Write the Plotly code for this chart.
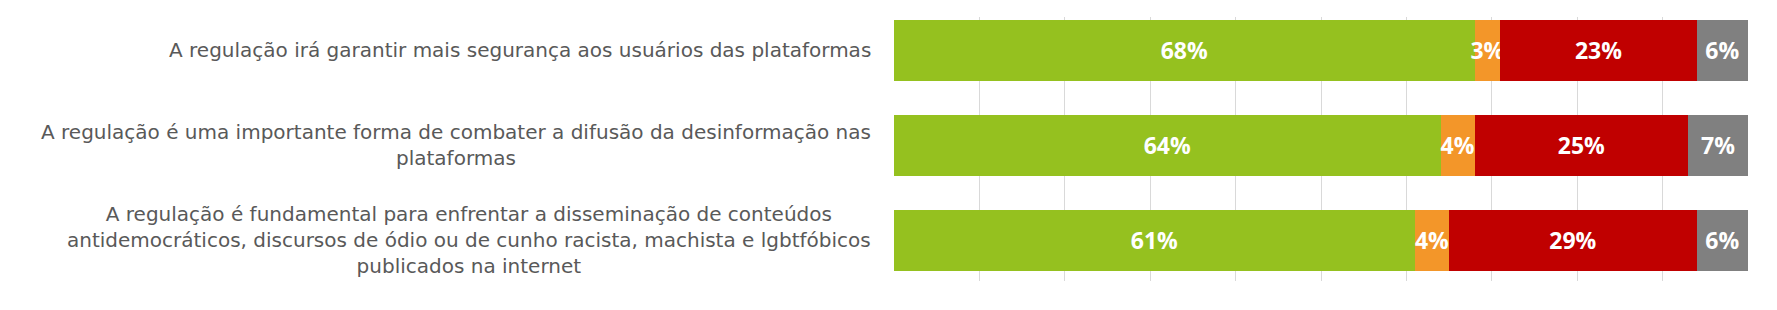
import plotly.graph_objects as go

categories = [
    "A regulação irá garantir mais segurança aos usuários das plataformas",
    "A regulação é uma importante forma de combater a difusão da desinformação nas<br>plataformas",
    "A regulação é fundamental para enfrentar a disseminação de conteúdos<br>antidemocráticos, discursos de ódio ou de cunho racista, machista e lgbtfóbicos<br>publicados na internet",
]
series_names = ["Concorda", "Nem concorda nem discorda", "Discorda", "Não sabe"]
concorda = [68, 64, 61]
neutro = [3, 4, 4]
discorda = [23, 25, 29]
nao_sabe = [6, 7, 6]
colors = ["#95C11F", "#F39629", "#C00000", "#808080"]

ypos = list(range(len(categories)))
fig = go.Figure()
for name, vals, col in zip(series_names, [concorda, neutro, discorda, nao_sabe], colors):
    fig.add_trace(go.Bar(
        y=ypos, x=vals, orientation="h", name=name,
        marker=dict(color=col, line=dict(width=0)),
        width=0.64,
        text=[f"{v}%" for v in vals],
        textposition="inside", insidetextanchor="middle", textangle=0,
        textfont=dict(color="white", size=23, family="Open Sans", weight="bold"),
        constraintext="none",
        hoverinfo="skip",
    ))

for i, cat in enumerate(categories):
    fig.add_annotation(
        x=0, xref="paper", y=i, yref="y", xanchor="right", yanchor="middle",
        xshift=-21, text=cat, showarrow=False, align="center",
        font=dict(family="DejaVu Sans", size=20, color="#595959"),
    )

fig.update_layout(
    width=1777, height=310,
    margin=dict(l=894, r=29, t=17, b=29),
    barmode="stack", showlegend=False,
    plot_bgcolor="white", paper_bgcolor="white",
    uniformtext=dict(minsize=23, mode="show"),
    xaxis=dict(range=[0, 100], dtick=10, showgrid=True, gridcolor="#D9D9D9",
               gridwidth=1, showticklabels=False, zeroline=False, showline=False),
    yaxis=dict(range=[2.43, -0.35], tickvals=ypos, showticklabels=False,
               showgrid=False, zeroline=False, showline=False),
)
fig.write_html("out.html")
